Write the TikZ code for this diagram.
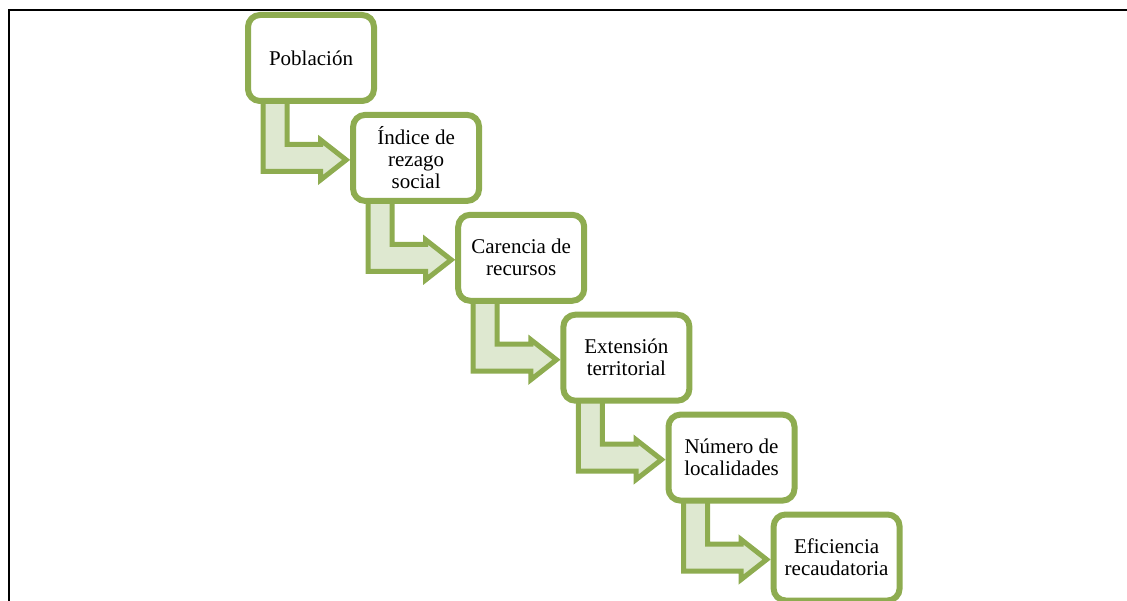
\documentclass[tikz,border=0pt]{standalone}
\usepackage{fontspec}
\setmainfont{Liberation Serif}
\usetikzlibrary{calc,backgrounds}

\definecolor{stepgreen}{RGB}{142,172,80}
\definecolor{stepfill}{RGB}{222,232,208}

\begin{document}
\begin{tikzpicture}[x=1pt, y=1pt,
    box/.style={draw=stepgreen, fill=white, rounded corners=12pt, line width=6pt, minimum width=126pt, minimum height=86pt, inner sep=2pt, align=center, font=\fontsize{21}{22}\selectfont},
    flow/.style={draw=stepgreen, fill=stepfill, line width=5pt, line join=miter},
]
\useasboundingbox (0,0) rectangle (1127,-601);
% frame
\draw[line width=2pt, black] (8.5,-601) -- (8.5,-10) -- (1127,-10);

% Steps
\node[box] (pob) at (311,-58) {Población};
\node[box] (ind) at (416.1,-157.9) {Índice de\\rezago\\social};
\node[box] (car) at (521.2,-257.8) {Carencia de\\recursos};
\node[box] (ext) at (626.4,-357.7) {Extensión\\territorial};
\node[box] (num) at (731.5,-457.6) {Número de\\localidades};
\node[box] (efi) at (836.6,-557.5) {Eficiencia\\recaudatoria};

% Arrows
\begin{scope}[on background layer]
\foreach \a/\b in {pob/ind,ind/car,car/ext,ext/num,num/efi}
  \draw[flow] let \p1=(\a.south west), \p2=(\b.west) in
    (\x1+18pt,\y1+4pt) -- (\x1+18pt,\y2-13.5pt) -- (\x2-29.5pt,\y2-13.5pt) -- (\x2-29.5pt,\y2-22pt)
    -- (\x2-4pt,\y2-2pt) -- (\x2-29.5pt,\y2+18pt) -- (\x2-29.5pt,\y2+13.5pt) -- (\x1+42pt,\y2+13.5pt)
    -- (\x1+42pt,\y1+4pt) -- cycle;
\end{scope}
\end{tikzpicture}
\end{document}
